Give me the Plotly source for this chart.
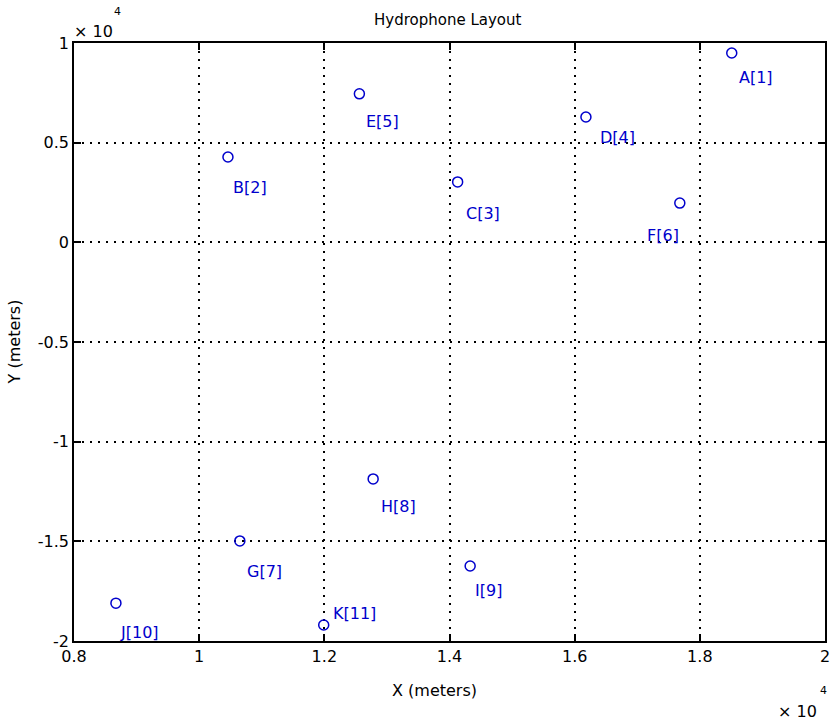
import plotly.graph_objects as go

# Data (units of 1e4 meters)
names = ["A[1]", "B[2]", "C[3]", "D[4]", "E[5]", "F[6]", "G[7]", "H[8]", "I[9]", "J[10]", "K[11]"]
x_vals = [1.851, 1.046, 1.413, 1.618, 1.256, 1.768, 1.065, 1.278, 1.433, 0.867, 1.199]
y_vals = [0.950, 0.428, 0.303, 0.629, 0.745, 0.197, -1.498, -1.187, -1.624, -1.810, -1.920]
x_ticks = [0.8, 1.0, 1.2, 1.4, 1.6, 1.8, 2.0]
x_ticklabels = ["0.8", "1", "1.2", "1.4", "1.6", "1.8", "2"]
y_ticks = [-2, -1.5, -1, -0.5, 0, 0.5, 1]
y_ticklabels = ["-2", "-1.5", "-1", "-0.5", "0", "0.5", "1"]

# label placement offsets in pixels (dx right, dy down) relative to each marker
label_dx = [7, 5, 8, 14, 7, -33, 7, 8, 5, 4, 9]
label_dy = [25, 30, 32, 21, 28, 32, 31, 28, 24, 29, -12]

BLUE = "#0000CC"
FONT = "DejaVu Sans, Arial, sans-serif"
W, H = 831, 722
L, R, T, B = 74, 1, 43, 81
PW, PH = W - L - R, H - T - B

fig = go.Figure()
fig.add_trace(go.Scatter(
    x=x_vals, y=y_vals, mode="markers",
    marker=dict(symbol="circle-open", size=10, color=BLUE, line=dict(width=1.5, color=BLUE)),
    showlegend=False, hoverinfo="skip", cliponaxis=False))

annotations = []
for n, xv, yv, dx, dy in zip(names, x_vals, y_vals, label_dx, label_dy):
    annotations.append(dict(x=xv, y=yv, xref="x", yref="y", text=n, showarrow=False,
                            xanchor="left", yanchor="middle", xshift=dx - 2, yshift=-dy,
                            font=dict(family=FONT, size=16, color=BLUE)))

def px2paper(px, py):
    return (px - L) / PW, (H - B - py) / PH

def add_text(px, py, text, size, anchor="center", angle=0):
    xp, yp = px2paper(px, py)
    annotations.append(dict(x=xp, y=yp, xref="paper", yref="paper", text=text, showarrow=False,
                            xanchor=anchor, yanchor="middle", textangle=angle,
                            font=dict(family=FONT, size=size, color="black")))

add_text(450, 20, "Hydrophone Layout", 15)
add_text(437, 690, "X (meters)", 16)
add_text(14, 342, "Y (meters)", 16, angle=-90)
add_text(72, 31, "× 10", 16, anchor="left")
add_text(112, 11, "4", 11, anchor="left")
add_text(781, 711, "× 10", 16, anchor="left")
add_text(823, 690, "4", 11, anchor="left")

axis_common = dict(
    showline=True, linecolor="black", linewidth=1.5, mirror="allticks",
    ticks="inside", ticklen=7, tickwidth=1.5, tickcolor="black",
    showgrid=True, gridcolor="black", gridwidth=1.5, griddash="1.5px,6.5px",
    zeroline=False, tickfont=dict(family=FONT, size=16, color="black"),
    ticklabeloverflow="allow",
)

fig.update_layout(
    width=W, height=H,
    margin=dict(l=L, r=R, t=T, b=B, pad=0),
    paper_bgcolor="white", plot_bgcolor="white",
    xaxis=dict(range=[0.8, 2.0], tickvals=x_ticks, ticktext=x_ticklabels, **axis_common),
    yaxis=dict(range=[-2, 1], tickvals=y_ticks, ticktext=y_ticklabels, **axis_common),
    annotations=annotations,
)

fig.write_html("out.html")
